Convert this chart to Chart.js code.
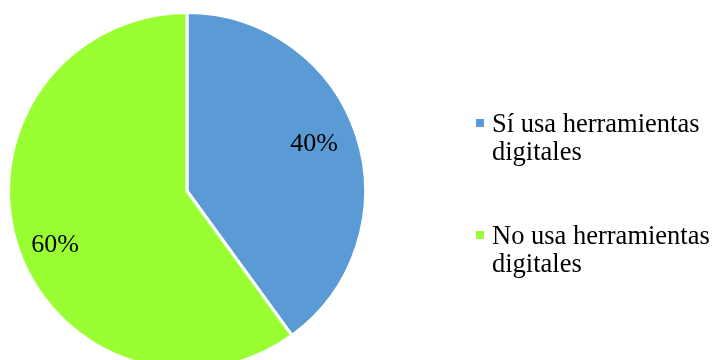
<!DOCTYPE html>
<html>
<head>
<meta charset="utf-8">
<script src="https://cdn.jsdelivr.net/npm/chart.js@4.4.1/dist/chart.umd.min.js"></script>
<style>
    html, body { margin: 0; padding: 0; background: #fff; overflow: hidden; }
    #BOX_Chart { position: relative; width: 712px; height: 382px; }
</style>
</head>
<body>
<div id="BOX_Chart"><canvas id="CHART_Herramientas" width="712" height="382"></canvas></div>
<script>
const categories = ['Sí usa herramientas digitales', 'No usa herramientas digitales'];
const percentages = [40, 60];
const sliceColors = ['#5B9BD5', '#99FF33'];

const serifFont = '"Liberation Serif", "Times New Roman", serif';
// small nudges so the percent labels sit where they look best
const labelNudge = [[-2, -5], [-3, 12]];

// labels inside the slices + legend on the right
const pieText = {
    id: 'pieText',
    afterDraw(chart) {
        let ctx = chart.ctx;
        let arcs = chart.getDatasetMeta(0).data;
        ctx.save();
        ctx.fillStyle = '#000';
        ctx.font = '26px ' + serifFont;
        ctx.textAlign = 'center';
        ctx.textBaseline = 'middle';
        for (let i = 0; i < arcs.length; i++) {
            let a = arcs[i];
            let mid = (a.startAngle + a.endAngle) / 2;
            let r = a.outerRadius * 0.76;
            ctx.fillText(percentages[i] + '%',
                a.x + Math.cos(mid) * r + labelNudge[i][0],
                a.y + Math.sin(mid) * r + labelNudge[i][1]);
        }

        // legend
        ctx.font = '26.5px ' + serifFont;
        ctx.textAlign = 'left';
        ctx.textBaseline = 'alphabetic';
        let legendX = 476;
        let baselines = [132, 244];
        for (let i = 0; i < categories.length; i++) {
            let words = categories[i].split(' ');
            let lines = [];
            let line = '';
            for (let w of words) {
                let test = line ? line + ' ' + w : w;
                if (ctx.measureText(test).width > 228 && line) {
                    lines.push(line);
                    line = w;
                } else {
                    line = test;
                }
            }
            lines.push(line);
            ctx.fillStyle = sliceColors[i];
            ctx.fillRect(legendX, baselines[i] - 13, 8, 8);
            ctx.fillStyle = '#000';
            for (let j = 0; j < lines.length; j++) {
                ctx.fillText(lines[j], legendX + 16, baselines[i] + j * 28);
            }
        }
        ctx.restore();
    }
};

new Chart(document.getElementById('CHART_Herramientas').getContext('2d'), {
    type: 'pie',
    data: {
        labels: categories,
        datasets: [{
            data: percentages,
            backgroundColor: sliceColors,
            borderColor: '#fff',
            borderWidth: 3
        }]
    },
    options: {
        responsive: false,
        animation: false,
        layout: {
            padding: { left: 7, right: 345, top: 11, bottom: 11 }
        },
        plugins: {
            legend: { display: false },
            tooltip: { enabled: false }
        }
    },
    plugins: [pieText]
});
</script>
</body>
</html>
